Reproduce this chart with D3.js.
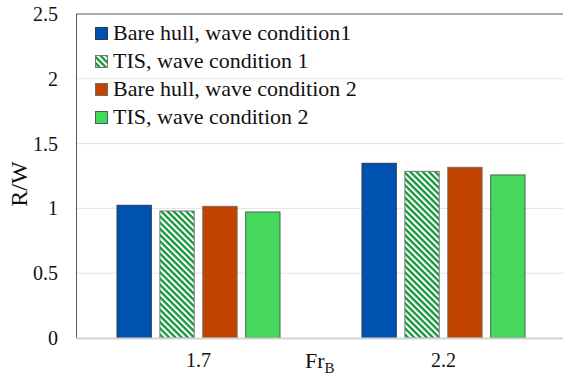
<!DOCTYPE html>
<html>
<head>
<meta charset="utf-8">
<script src="https://cdn.jsdelivr.net/npm/d3@7"></script>
</head>
<body style="margin:0">
<div id="chart"></div>
<script>
const categories = ['1.7', '2.2'];
const seriesNames = ['Bare hull, wave condition1', 'TIS, wave condition 1', 'Bare hull, wave condition 2', 'TIS, wave condition 2'];
const bareHull1 = [1.024, 1.348];
const tis1 = [0.98, 1.286];
const bareHull2 = [1.016, 1.317];
const tis2 = [0.972, 1.258];
const yTicks = [0, 0.5, 1, 1.5, 2, 2.5];

const seriesValues = [bareHull1, tis1, bareHull2, tis2];
const fills = ['#0052b1', 'url(#hatch)', '#c04300', '#45d85c'];
const strokes = ['#2b3a55', '#777777', '#7a6a60', '#3d6a46'];
const FONT = "'Liberation Serif', serif";

const width = 563, height = 380;
const svg = d3.select('#chart').append('svg')
    .attr('width', width)
    .attr('height', height)
    .style('display', 'block')
    .style('font-family', FONT);

// diagonal hatch for TIS, wave condition 1
svg.append('defs').append('pattern')
    .attr('id', 'hatch')
    .attr('patternUnits', 'userSpaceOnUse')
    .attr('width', 4.4)
    .attr('height', 4.4)
    .attr('patternTransform', 'rotate(45)')
    .call(p => {
        p.append('rect').attr('width', 4.4).attr('height', 4.4).attr('fill', '#fff');
        p.append('rect').attr('width', 4.4).attr('height', 2.3).attr('fill', '#139436');
    });

const x = d3.scaleBand().domain(categories).range([76, 566]);
const xs = d3.scaleBand().domain(d3.range(seriesNames.length)).range([41, 204]).paddingInner(0.2).paddingOuter(0);
const y = d3.scaleLinear().domain([0, 2.5]).range([338, 14]);

// gridlines
svg.append('g')
    .selectAll('line')
    .data(yTicks.filter(t => t > 0 && t < 2.5))
    .join('line')
    .attr('x1', 76).attr('x2', width)
    .attr('y1', d => y(d)).attr('y2', d => y(d))
    .attr('stroke', '#e3e3e3')
    .attr('stroke-width', 1);

// top frame line and left axis
svg.append('line')
    .attr('x1', 76).attr('x2', width)
    .attr('y1', y(2.5)).attr('y2', y(2.5))
    .attr('stroke', '#5a5a5a').attr('stroke-width', 1);
svg.append('line')
    .attr('x1', 76.5).attr('x2', 76.5)
    .attr('y1', y(2.5)).attr('y2', y(0))
    .attr('stroke', '#5a5a5a').attr('stroke-width', 1);

// y tick labels
const yAxis = d3.axisLeft(y).tickValues(yTicks).tickSize(0).tickPadding(0).tickFormat(d3.format(''));
svg.append('g')
    .attr('transform', 'translate(58,0)')
    .call(yAxis)
    .call(g => g.select('.domain').remove())
    .selectAll('text')
    .style('font-family', FONT)
    .style('font-size', '20px')
    .attr('fill', '#111');

// bars
const groups = svg.append('g')
    .selectAll('g')
    .data(categories)
    .join('g')
    .attr('transform', d => `translate(${x(d)},0)`);

groups.selectAll('rect')
    .data((d, i) => seriesValues.map((s, k) => ({ k, v: s[i] })))
    .join('rect')
    .attr('x', d => xs(d.k))
    .attr('y', d => y(d.v))
    .attr('width', xs.bandwidth())
    .attr('height', d => y(0) - y(d.v))
    .attr('fill', d => fills[d.k])
    .attr('stroke', d => strokes[d.k])
    .attr('stroke-width', 1);

// zero axis line
svg.append('line')
    .attr('x1', 76).attr('x2', width)
    .attr('y1', y(0) + 0.5).attr('y2', y(0) + 0.5)
    .attr('stroke', '#d4d4d4').attr('stroke-width', 2);

// x labels
const xAxis = d3.axisBottom(x).tickSize(0).tickPadding(0);
svg.append('g')
    .attr('transform', `translate(0,${y(0) + 15})`)
    .call(xAxis)
    .call(g => g.select('.domain').remove())
    .selectAll('text')
    .style('font-family', FONT)
    .style('font-size', '20px')
    .attr('fill', '#111');

// axis titles
const xt = svg.append('text')
    .attr('x', 305).attr('y', 368)
    .style('font-family', FONT)
    .style('font-size', '22px')
    .attr('fill', '#111');
xt.append('tspan').text('Fr');
xt.append('tspan').attr('dy', 5).style('font-size', '15px').text('B');

svg.append('text')
    .attr('transform', 'translate(27,184) rotate(-90)')
    .attr('text-anchor', 'middle')
    .style('font-family', FONT)
    .style('font-size', '24px')
    .attr('fill', '#111')
    .text('R/W');

// legend
const legend = svg.append('g')
    .selectAll('g')
    .data(seriesNames)
    .join('g')
    .attr('transform', (d, i) => `translate(95,${33 + i * 28})`);

legend.append('rect')
    .attr('x', 0.5).attr('y', -5.5)
    .attr('width', 12).attr('height', 12)
    .attr('fill', (d, i) => fills[i])
    .attr('stroke', (d, i) => strokes[i])
    .attr('stroke-width', 1);

legend.append('text')
    .attr('x', 18).attr('y', 7)
    .style('font-family', FONT)
    .style('font-size', '22px')
    .attr('fill', '#111')
    .text(d => d);
</script>
</body>
</html>
